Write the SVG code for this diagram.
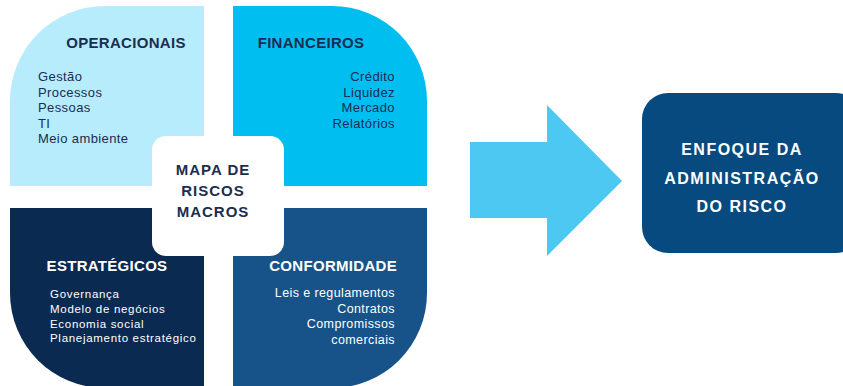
<svg xmlns="http://www.w3.org/2000/svg" width="843" height="386" viewBox="0 0 843 386">
<style>
text{font-family:"Liberation Sans",Arial,sans-serif}
.h{font-weight:bold;font-size:15px;letter-spacing:0.3px}
.dk{fill:#1b2d50}
.wt{fill:#ffffff}
.li{font-size:13px;letter-spacing:0.4px}
.ls{font-size:11.5px;letter-spacing:0.7px}
.c{font-weight:bold;font-size:15px;letter-spacing:1px;fill:#1b2d50}
.r{font-weight:bold;font-size:16px;letter-spacing:1.5px;fill:#ffffff}
</style>
<rect width="843" height="386" fill="#ffffff"/>
<g id="operacionais">
<path d="M10,186 V101 A95,95 0 0 1 105,6 H204 V186 Z" fill="#b7ecfc"/>
<text class="h dk" x="126" y="48" text-anchor="middle">OPERACIONAIS</text>
<text class="li dk" x="38"><tspan x="38" y="81">Gestão</tspan><tspan x="38" y="96.5">Processos</tspan><tspan x="38" y="112">Pessoas</tspan><tspan x="38" y="127.5">TI</tspan><tspan x="38" y="143">Meio ambiente</tspan></text>
</g>
<g id="financeiros">
<path d="M233,6 H332 A95,95 0 0 1 427,101 V186 H233 Z" fill="#00bff0"/>
<text class="h dk" x="311" y="48" text-anchor="middle">FINANCEIROS</text>
<text class="li dk" text-anchor="end"><tspan x="395" y="81">Crédito</tspan><tspan x="395" y="96.5">Liquidez</tspan><tspan x="395" y="112">Mercado</tspan><tspan x="395" y="127.5">Relatórios</tspan></text>
</g>
<g id="estrategicos">
<path d="M10,208 H204 V388 H105 A95,95 0 0 1 10,293 Z" fill="#0b2a52"/>
<text class="h wt" x="107" y="271" text-anchor="middle">ESTRATÉGICOS</text>
<text class="ls wt"><tspan x="50" y="298">Governança</tspan><tspan x="50" y="313">Modelo de negócios</tspan><tspan x="50" y="327.5">Economia social</tspan><tspan x="50" y="342">Planejamento estratégico</tspan></text>
</g>
<g id="conformidade">
<path d="M233,208 H427 V293 A95,95 0 0 1 332,388 H233 Z" fill="#175388"/>
<text class="h wt" x="397" y="271" text-anchor="end">CONFORMIDADE</text>
<text class="li wt" text-anchor="end" style="font-size:12.5px"><tspan x="395" y="297">Leis e regulamentos</tspan><tspan x="395" y="312.5">Contratos</tspan><tspan x="395" y="328">Compromissos</tspan><tspan x="395" y="344">comerciais</tspan></text>
</g>
<g id="mapa">
<rect x="152" y="136" width="132" height="120" rx="14" fill="#ffffff"/>
<text class="c" text-anchor="middle"><tspan x="213" y="175">MAPA DE</tspan><tspan x="213" y="196">RISCOS</tspan><tspan x="213" y="217">MACROS</tspan></text>
</g>
<g id="connectors">
<path d="M470,142 H547 V105 L622,181 L547,256 V218 H470 Z" fill="#4cc8f2"/>
</g>
<g id="enfoque">
<rect x="642" y="93" width="220" height="160" rx="26" fill="#064a80"/>
<text class="r" text-anchor="middle"><tspan x="742" y="155">ENFOQUE DA</tspan><tspan x="742" y="184">ADMINISTRAÇÃO</tspan><tspan x="742" y="212">DO RISCO</tspan></text>
</g>
</svg>
